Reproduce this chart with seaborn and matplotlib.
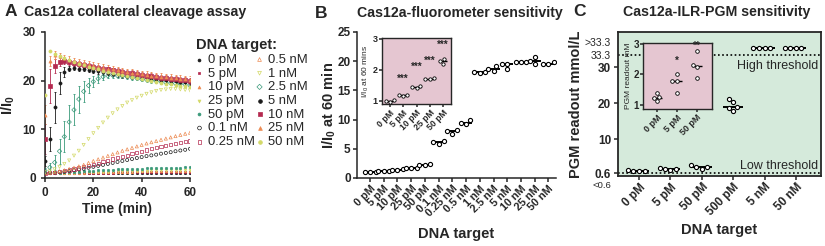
import matplotlib
matplotlib.use("Agg")
import matplotlib.pyplot as plt
import pandas as pd
import seaborn as sns

# ---------------- panel A : kinetics (I/I0 vs time, read every 2 min)
time_min = list(range(0, 61, 2))

targets_A = ["0 pM", "5 pM", "10 pM", "25 pM", "50 pM",
             "0.1 nM", "0.25 nM", "0.5 nM", "1 nM", "2.5 nM",
             "5 nM", "10 nM", "25 nM", "50 nM"]

kin_0pM = [1.0, 1.0, 1.0, 1.0, 1.0, 1.0, 1.0, 1.0, 1.0, 1.0, 1.0, 1.0, 1.0, 1.0, 1.0, 1.0,
           1.0, 1.0, 1.0, 1.0, 1.0, 1.0, 1.0, 1.0, 1.0, 1.0, 1.0, 1.0, 1.0, 1.0, 1.0]
kin_5pM = [1.0, 1.0, 1.0, 1.02, 1.03, 1.04, 1.05, 1.06, 1.07, 1.08, 1.09, 1.1, 1.11, 1.12, 1.13, 1.14,
           1.15, 1.16, 1.17, 1.18, 1.19, 1.2, 1.21, 1.22, 1.23, 1.24, 1.25, 1.26, 1.27, 1.28, 1.3]
kin_10pM = [1.0, 1.0, 1.01, 1.02, 1.04, 1.06, 1.08, 1.1, 1.12, 1.14, 1.16, 1.18, 1.2, 1.22, 1.24, 1.26,
            1.28, 1.3, 1.32, 1.34, 1.35, 1.37, 1.38, 1.4, 1.41, 1.42, 1.44, 1.45, 1.47, 1.48, 1.5]
kin_25pM = [1.0, 1.01, 1.02, 1.04, 1.06, 1.09, 1.12, 1.15, 1.18, 1.21, 1.24, 1.27, 1.3, 1.33, 1.36, 1.39,
            1.42, 1.45, 1.47, 1.5, 1.52, 1.54, 1.56, 1.58, 1.6, 1.62, 1.64, 1.65, 1.67, 1.68, 1.7]
kin_50pM = [1.0, 1.02, 1.05, 1.09, 1.14, 1.2, 1.26, 1.32, 1.38, 1.44, 1.5, 1.56, 1.61, 1.66, 1.71, 1.75,
            1.79, 1.83, 1.87, 1.9, 1.93, 1.96, 1.99, 2.02, 2.05, 2.08, 2.1, 2.13, 2.15, 2.18, 2.2]
kin_100pM = [1.0, 1.05, 1.1, 1.2, 1.3, 1.45, 1.6, 1.75, 1.9, 2.1, 2.3, 2.5, 2.7, 2.9, 3.1, 3.3,
             3.5, 3.7, 3.9, 4.1, 4.3, 4.5, 4.65, 4.8, 5.0, 5.15, 5.3, 5.5, 5.65, 5.8, 6.0]
kin_250pM = [1.0, 1.05, 1.15, 1.3, 1.45, 1.65, 1.85, 2.05, 2.3, 2.55, 2.8, 3.05, 3.3, 3.6, 3.9, 4.2,
             4.45, 4.7, 5.0, 5.25, 5.5, 5.75, 6.0, 6.2, 6.45, 6.65, 6.85, 7.05, 7.25, 7.45, 7.6]
kin_500pM = [1.0, 1.1, 1.2, 1.4, 1.6, 1.85, 2.1, 2.4, 2.7, 3.1, 3.5, 3.85, 4.2, 4.55, 4.9, 5.25,
             5.6, 5.9, 6.2, 6.5, 6.8, 7.1, 7.35, 7.6, 7.85, 8.1, 8.35, 8.6, 8.85, 9.1, 9.3]
kin_1nM = [1.2, 1.4, 1.8, 2.3, 2.9, 3.6, 4.6, 5.6, 6.8, 8.0, 9.2, 10.3, 11.4, 12.4, 13.3, 14.1,
           14.8, 15.5, 16.0, 16.5, 16.9, 17.3, 17.6, 17.9, 18.1, 18.2, 18.3, 18.3, 18.2, 18.1, 18.0]
kin_2p5nM = [1.5, 2.2, 3.2, 5.5, 8.5, 11.5, 14.0, 16.2, 17.8, 19.0, 19.8, 20.4, 20.8, 21.0, 21.1, 21.0,
             20.9, 20.8, 20.6, 20.5, 20.3, 20.2, 20.0, 19.9, 19.8, 19.6, 19.5, 19.4, 19.3, 19.2, 19.0]
kin_5nM = [3.5, 8.0, 14.5, 19.5, 21.8, 22.5, 22.6, 22.5, 22.4, 22.2, 22.0, 21.9, 21.7, 21.6, 21.4, 21.3,
           21.1, 21.0, 20.9, 20.8, 20.6, 20.5, 20.4, 20.3, 20.2, 20.1, 20.0, 19.9, 19.8, 19.7, 19.7]
kin_10nM = [8.0, 19.0, 23.0, 23.8, 24.0, 23.9, 23.7, 23.5, 23.3, 23.1, 22.9, 22.7, 22.5, 22.3, 22.1, 22.0,
            21.8, 21.6, 21.5, 21.3, 21.2, 21.0, 20.9, 20.8, 20.6, 20.5, 20.4, 20.3, 20.2, 20.1, 20.0]
kin_25nM = [13.0, 24.0, 25.2, 25.0, 24.6, 24.3, 24.0, 23.8, 23.6, 23.3, 23.1, 22.9, 22.7, 22.5, 22.3, 22.1,
            21.9, 21.8, 21.6, 21.5, 21.3, 21.2, 21.0, 20.9, 20.8, 20.7, 20.6, 20.5, 20.4, 20.3, 20.2]
kin_50nM = [17.0, 26.0, 25.5, 25.0, 24.6, 24.2, 23.8, 23.5, 23.2, 22.9, 22.6, 22.3, 22.0, 21.8, 21.5, 21.3,
            21.1, 20.9, 20.7, 20.5, 20.3, 20.1, 19.9, 19.7, 19.6, 19.4, 19.3, 19.2, 19.0, 18.9, 18.8]

# SD for the fast series (others have bars smaller than the marker)
err_2p5nM = [0.5, 0.8, 1.6, 2.6, 3.2, 3.4, 3.2, 2.8, 2.2, 1.6, 1.1, 0.8, 0.6, 0.5, 0.5, 0.5,
             0.4, 0.4, 0.4, 0.4, 0.4, 0.4, 0.4, 0.4, 0.4, 0.4, 0.4, 0.4, 0.4, 0.4, 0.4]
err_5nM = [1.0, 2.5, 3.2, 2.2, 1.0, 0.6, 0.5, 0.5, 0.5, 0.5, 0.5, 0.5, 0.5, 0.5, 0.5, 0.5,
           0.5, 0.5, 0.5, 0.5, 0.5, 0.5, 0.5, 0.5, 0.5, 0.5, 0.5, 0.5, 0.5, 0.5, 0.5]
err_10nM = [3.0, 3.5, 1.5, 0.8, 0.6, 0.6, 0.6, 0.6, 0.6, 0.6, 0.6, 0.6, 0.6, 0.6, 0.6, 0.6,
            0.6, 0.6, 0.6, 0.6, 0.6, 0.6, 0.6, 0.6, 0.6, 0.6, 0.6, 0.6, 0.6, 0.6, 0.6]
err_25nM = [2.0, 1.0, 0.8, 0.7, 0.7, 0.7, 0.7, 0.7, 0.7, 0.7, 0.7, 0.7, 0.7, 0.7, 0.7, 0.7,
            0.7, 0.7, 0.7, 0.7, 0.7, 0.7, 0.7, 0.7, 0.7, 0.7, 0.7, 0.7, 0.7, 0.7, 0.7]

kinetics = [kin_0pM, kin_5pM, kin_10pM, kin_25pM, kin_50pM,
            kin_100pM, kin_250pM, kin_500pM, kin_1nM, kin_2p5nM,
            kin_5nM, kin_10nM, kin_25nM, kin_50nM]
errors = {"2.5 nM": err_2p5nM, "5 nM": err_5nM, "10 nM": err_10nM, "25 nM": err_25nM}

# ---------------- panel B : I/I0 at 60 min, triplicates
targets_B = ["0 pM", "5 pM", "10 pM", "25 pM", "50 pM", "0.1 nM", "0.25 nM",
             "0.5 nM", "1 nM", "2.5 nM", "5 nM", "10 nM", "25 nM", "50 nM"]
reps_B = [[0.97, 1.0, 1.02], [1.15, 1.18, 1.2], [1.42, 1.45, 1.48], [1.7, 1.72, 1.75],
          [2.2, 2.3, 2.35], [5.9, 6.1, 6.3], [7.6, 8.0, 8.2], [9.2, 9.4, 9.9],
          [18.0, 18.2, 18.2], [18.4, 18.7, 19.2], [18.6, 19.6, 19.6], [19.8, 19.9, 19.9],
          [19.6, 20.1, 20.7], [19.6, 19.6, 19.9]]
inset_targets_B = targets_B[:5]
stars_B = ["", "***", "***", "***", "***"]
stars_y_B = [1.0, 1.7, 2.1, 2.3, 2.8]

# ---------------- panel C : PGM readout (mmol/L)
targets_C = ["0 pM", "5 pM", "50 pM", "500 pM", "5 nM", "50 nM"]
reps_C = [[1.4, 1.25, 1.22, 1.12], [2.0, 1.8, 1.8, 1.4], [2.77, 2.32, 2.26, 1.87],
          [21.2, 20.4, 18.9, 18.6, 17.8], [35.2, 35.2, 35.2, 35.2], [35.2, 35.2, 35.2, 35.2]]
inset_targets_C = targets_C[:3]
stars_C = ["", "*", "**"]
stars_y_C = [1.0, 2.45, 2.95]
low_threshold = 0.6
high_threshold = 33.3

# ---------------- style
sns.set_theme(style="ticks")
plt.rcParams["font.family"] = ["Liberation Sans", "DejaVu Sans"]
plt.rcParams["mathtext.fontset"] = "custom"
plt.rcParams["mathtext.rm"] = "Liberation Sans"
plt.rcParams["mathtext.bf"] = "Liberation Sans:bold"
plt.rcParams["axes.linewidth"] = 1.1
plt.rcParams["xtick.major.width"] = 1.1
plt.rcParams["ytick.major.width"] = 1.1
plt.rcParams["xtick.major.size"] = 3
plt.rcParams["ytick.major.size"] = 3

colors5 = ["#1a1a1a", "#b4294f", "#ec8a52", "#d3d968", "#3a9a7a"]
colors_A = colors5 + colors5 + colors5[:4]
markers_A = ["o", "s", "^", "v", "o", "o", "s", "^", "v", "D", "o", "s", "^", "o"]
open_A = [False] * 5 + [True] * 5 + [False] * 4
sizes_A = [3] * 5 + [5] * 5 + [5] * 4
pink = "#e5c6d1"
green = "#d5eadb"

W, H = 825, 246


def box(x0, y0, x1, y1):
    return [x0 / W, 1 - y1 / H, (x1 - x0) / W, (y1 - y0) / H]


def bold_ticks(ax, size):
    for t in ax.get_xticklabels() + ax.get_yticklabels():
        t.set_fontweight("bold")
        t.set_fontsize(size)


def rot_labels(ax):
    for t in ax.get_xticklabels():
        t.set_rotation(45)
        t.set_ha("right")
        t.set_rotation_mode("anchor")


fig = plt.figure(figsize=(W / 100, H / 100), dpi=100)

# ================= A
axA = fig.add_axes(box(45, 32, 190, 178))
for name, vals, c, m, op, s in zip(targets_A, kinetics, colors_A, markers_A, open_A, sizes_A):
    if name in errors:
        axA.errorbar(time_min, vals, yerr=errors[name], fmt="none", ecolor=c,
                     elinewidth=0.6, capsize=1.0, capthick=0.6, zorder=2)
    sns.scatterplot(x=time_min, y=vals, marker=m, s=s, ax=axA, label=name,
                    facecolor="none" if op else c, edgecolor=c,
                    linewidth=0.5, zorder=3)
axA.set_xlim(0, 60)
axA.set_ylim(0, 30)
axA.set_xticks([0, 20, 40, 60])
axA.set_yticks([0, 10, 20, 30])
sns.despine(ax=axA)
axA.set_xlabel("Time (min)", fontsize=10, fontweight="bold", labelpad=2)
axA.set_ylabel(r"I/I$_\mathbf{0}$", fontsize=10.5, fontweight="bold", labelpad=4)
bold_ticks(axA, 8.5)
handles, labels = axA.get_legend_handles_labels()
axA.get_legend().remove()
fig.legend(handles, labels, ncol=2, loc="upper left", bbox_to_anchor=(191 / W, 1 - 33 / H),
           frameon=False, fontsize=9.4, title="DNA target:",
           title_fontproperties={"weight": "bold", "size": 10.5}, alignment="left",
           handlelength=0.5, handletextpad=0.4, columnspacing=0.1,
           labelspacing=0.12, borderaxespad=0, markerscale=1.2)

fig.text(5 / W, 1 - 12 / H, "A", fontsize=12.5, fontweight="bold", va="center")
fig.text(24 / W, 1 - 12 / H, "Cas12a collateral cleavage assay", fontsize=10.2,
         fontweight="bold", va="center")

# ================= B
dfB = pd.DataFrame({"target": [t for t, r in zip(targets_B, reps_B) for _ in r],
                    "value": [v for r in reps_B for v in r]})
axB = fig.add_axes(box(357, 32, 556, 178))
sns.pointplot(data=dfB, x="target", y="value", order=targets_B, estimator="median",
              errorbar=None, color="black", markers="_", linestyles="none",
              markersize=9, markeredgewidth=1.4, ax=axB)
sns.swarmplot(data=dfB, x="target", y="value", order=targets_B, color="white",
              edgecolor="black", linewidth=0.8, size=3.0, ax=axB, zorder=4)
axB.set_xlim(-0.95, 13.55)
axB.set_ylim(0, 25)
axB.set_yticks([0, 5, 10, 15, 20, 25])
sns.despine(ax=axB)
axB.tick_params(axis="x", pad=1)
axB.tick_params(axis="y", pad=1.5)
rot_labels(axB)
axB.set_xlabel("DNA target", fontsize=10.5, fontweight="bold", labelpad=6)
axB.set_ylabel(r"I/I$_\mathbf{0}$ at 60 min", fontsize=10.5, fontweight="bold", labelpad=0)
bold_ticks(axB, 8.5)
for t in axB.get_xticklabels():
    t.set_fontsize(7.8)

dfBi = dfB[dfB["target"].isin(inset_targets_B)]
axBi = fig.add_axes(box(382, 38, 451, 104))
axBi.set_facecolor(pink)
sns.pointplot(data=dfBi, x="target", y="value", order=inset_targets_B, estimator="median",
              errorbar=None, color="black", markers="_", linestyles="none",
              markersize=6, markeredgewidth=1.0, ax=axBi)
sns.swarmplot(data=dfBi, x="target", y="value", order=inset_targets_B, color="white",
              edgecolor="black", linewidth=0.6, size=2.4, ax=axBi, zorder=4)
for i, (st, sy) in enumerate(zip(stars_B, stars_y_B)):
    if st:
        axBi.text(i, sy, st, ha="center", va="center", fontsize=7, fontweight="bold")
axBi.set_xlim(-0.6, 4.6)
axBi.set_ylim(0.9, 3.03)
axBi.set_yticks([1, 2, 3])
axBi.tick_params(axis="x", pad=1, length=2, labelsize=6.3)
axBi.tick_params(axis="y", pad=1, length=2, labelsize=6.5)
rot_labels(axBi)
for t in axBi.get_xticklabels() + axBi.get_yticklabels():
    t.set_fontweight("bold")
axBi.set_xlabel("")
axBi.set_ylabel(r"I/I$_0$ at 60 mins", fontsize=6, labelpad=1)
for s in axBi.spines.values():
    s.set_linewidth(1.0)

fig.text(315 / W, 1 - 13 / H, "B", fontsize=12.5, fontweight="bold", va="center")
fig.text(460 / W, 1 - 13 / H, "Cas12a-fluorometer sensitivity", fontsize=10.2,
         fontweight="bold", va="center", ha="center")

# ================= C
dfC = pd.DataFrame({"target": [t for t, r in zip(targets_C, reps_C) for _ in r],
                    "value": [v for r in reps_C for v in r]})
axC = fig.add_axes(box(618, 32, 821, 175.5))
axC.set_facecolor(green)
axC.axhline(high_threshold, ls=(0, (1, 1.5)), color="black", lw=1.2, zorder=1)
axC.axhline(low_threshold, ls=(0, (1, 1.5)), color="black", lw=1.2, zorder=1)
sns.pointplot(data=dfC, x="target", y="value", order=targets_C, estimator="median",
              errorbar=None, color="black", markers="_", linestyles="none",
              markersize=14, markeredgewidth=1.4, ax=axC)
sns.swarmplot(data=dfC, x="target", y="value", order=targets_C, color="white",
              edgecolor="black", linewidth=0.8, size=3.0, ax=axC, zorder=4)
axC.set_xlim(-0.67, 5.8)
axC.set_ylim(0, 39.7)
axC.set_yticks([low_threshold, 10, 20, 30, high_threshold, 36.9])
axC.set_yticklabels(["0.6", "10", "20", "30", "33.3", ">33.3"])
for tk in axC.yaxis.get_major_ticks()[4:]:
    tk.tick1line.set_visible(False)
axC.tick_params(axis="x", pad=1)
axC.tick_params(axis="y", pad=2)
rot_labels(axC)
bold_ticks(axC, 8.5)
for t in axC.get_yticklabels()[4:]:
    t.set_fontweight("normal")
    t.set_fontsize(7.5)
axC.text(-0.035, -2.7, "<0.6", transform=axC.get_yaxis_transform(), ha="right",
         va="center", fontsize=6.8, clip_on=False)
axC.text(5.7, 30.3, "High threshold", ha="right", va="center", fontsize=9)
axC.text(5.7, 2.7, "Low threshold", ha="right", va="center", fontsize=9)
axC.set_xlabel("DNA target", fontsize=10.5, fontweight="bold", labelpad=4)
axC.set_ylabel("PGM readout mmol/L", fontsize=10.5, fontweight="bold", labelpad=1)
for s in axC.spines.values():
    s.set_linewidth(1.3)

dfCi = dfC[dfC["target"].isin(inset_targets_C)]
axCi = fig.add_axes(box(643, 43, 712, 109))
axCi.set_facecolor(pink)
sns.pointplot(data=dfCi, x="target", y="value", order=inset_targets_C, estimator="median",
              errorbar=None, color="black", markers="_", linestyles="none",
              markersize=7, markeredgewidth=1.0, ax=axCi)
sns.swarmplot(data=dfCi, x="target", y="value", order=inset_targets_C, color="white",
              edgecolor="black", linewidth=0.6, size=2.6, ax=axCi, zorder=4)
for i, (st, sy) in enumerate(zip(stars_C, stars_y_C)):
    if st:
        axCi.text(i, sy, st, ha="center", va="center", fontsize=7, fontweight="bold")
axCi.set_xlim(-0.7, 2.75)
axCi.set_ylim(0.87, 3.03)
axCi.set_yticks([1, 2, 3])
axCi.tick_params(axis="x", pad=1, length=2, labelsize=6.5)
axCi.tick_params(axis="y", pad=1, length=2, labelsize=7)
rot_labels(axCi)
for t in axCi.get_xticklabels() + axCi.get_yticklabels():
    t.set_fontweight("bold")
axCi.set_xlabel("")
axCi.set_ylabel("PGM readout mM", fontsize=6, labelpad=1)
for s in axCi.spines.values():
    s.set_linewidth(1.0)

fig.text(573 / W, 1 - 12 / H, "C", fontsize=12.5, fontweight="bold", va="center")
fig.text(717 / W, 1 - 12 / H, "Cas12a-ILR-PGM sensitivity", fontsize=10.2,
         fontweight="bold", va="center", ha="center")

fig.savefig("out.png", dpi=100)
